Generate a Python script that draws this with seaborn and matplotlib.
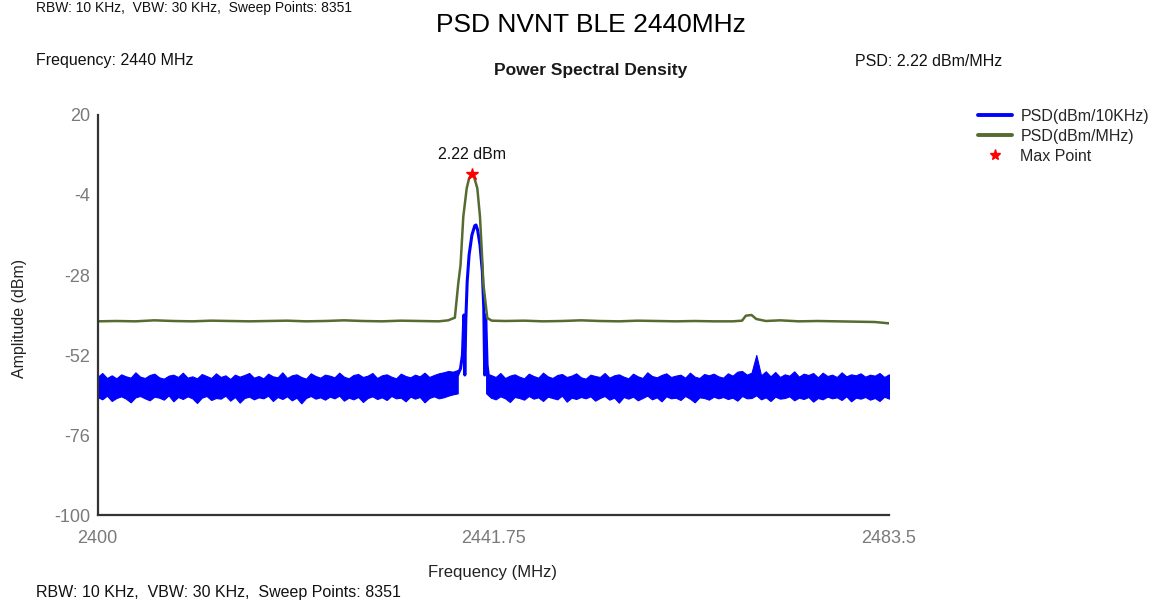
import numpy as np
import pandas as pd
import matplotlib
matplotlib.use("Agg")
import matplotlib.pyplot as plt
from matplotlib.lines import Line2D
import seaborn as sns

# ---------------- data ----------------
x_ticks = [2400, 2441.75, 2483.5]
y_ticks = [20, -4, -28, -52, -76, -100]

max_freq = 2439.48
max_db = 2.22

# PSD (dBm/MHz) trace
green_freq = [2400, 2402, 2404, 2406, 2408, 2410, 2412, 2414, 2416, 2418, 2420,
              2422, 2424, 2426, 2428, 2430, 2432, 2434, 2436, 2437, 2437.7,
              2438.06, 2438.3, 2438.59, 2438.95, 2439.2, 2439.48, 2439.75,
              2440.07, 2440.35, 2440.6, 2440.7, 2441.12, 2441.6, 2443, 2445,
              2447, 2449, 2451, 2453, 2455, 2457, 2459, 2461, 2463, 2465,
              2467, 2468.0, 2468.4, 2469.0, 2469.5, 2470.5, 2472, 2474, 2476,
              2478, 2480, 2482, 2483.5]
green_db = [-41.9, -41.8, -41.9, -41.6, -41.8, -41.9, -41.7, -41.8, -41.9, -41.8,
            -41.7, -41.9, -41.8, -41.6, -41.8, -41.9, -41.7, -41.8, -41.9, -41.6,
            -40.8, -30.5, -25.0, -10.5, -2.0, 1.0, 2.22, 1.2, -2.0, -10.5, -24.0,
            -30.5, -40.9, -41.7, -41.8, -41.7, -41.9, -41.8, -41.6, -41.8, -41.9,
            -41.7, -41.8, -41.9, -41.8, -41.9, -41.9, -41.7, -40.2, -40.0, -41.2,
            -41.8, -41.6, -41.9, -41.8, -41.9, -42.0, -42.1, -42.5]

# PSD (dBm/10KHz) trace: signal core
sig_freq = [2438.0, 2438.3, 2438.5, 2438.65, 2438.75, 2438.85, 2439.0, 2439.2,
            2439.5, 2439.8, 2439.93, 2440.1, 2440.35, 2440.6, 2440.75, 2440.85,
            2440.95, 2441.1, 2441.3]
sig_db = [-58.0, -56.0, -52.0, -40.0, -58.0, -42.0, -30.0, -22.0, -16.0, -13.2,
          -13.0, -14.5, -19.0, -27.0, -38.0, -58.0, -40.0, -55.0, -60.0]

# PSD (dBm/10KHz) noise floor envelope (upper / lower), 0.5 MHz steps
left_start, left_stop = 2400.0, 2438.0
left_hi = [-58.6, -57.4, -58.9, -58.1, -59.0, -57.8, -58.4, -58.8, -57.2, -58.5,
           -58.9, -58.0, -57.6, -58.7, -59.1, -58.2, -57.9, -58.6, -57.3, -58.8,
           -58.4, -59.0, -57.7, -58.3, -58.9, -57.5, -58.6, -58.1, -59.2, -57.9,
           -58.5, -58.0, -57.4, -58.8, -58.3, -59.0, -57.6, -58.4, -58.7, -57.2,
           -58.9, -58.1, -57.8, -58.6, -59.1, -57.5, -58.3, -58.8, -57.9, -58.2,
           -58.7, -57.3, -58.5, -59.0, -58.0, -57.7, -58.6, -58.2, -57.4, -58.9,
           -58.1, -57.8, -58.5, -59.0, -57.6, -58.3, -58.7, -57.9, -58.4, -57.3,
           -58.6, -58.0, -57.5, -57.2, -56.8, -57.0, -56.5]
left_lo = [-64.6, -65.3, -64.2, -65.8, -64.9, -64.4, -65.1, -66.2, -64.7, -64.3,
           -65.0, -65.6, -64.5, -64.8, -65.4, -64.1, -65.9, -64.6, -65.2, -64.4,
           -65.0, -66.4, -64.8, -64.3, -65.5, -64.9, -65.1, -64.2, -65.7, -64.6,
           -66.3, -64.9, -64.5, -65.3, -64.7, -65.0, -64.2, -65.8, -64.6, -65.2,
           -64.4, -65.6, -64.8, -66.5, -64.9, -64.3, -65.1, -64.7, -65.4, -64.5,
           -65.0, -64.2, -65.7, -64.8, -65.3, -64.6, -66.1, -64.9, -64.4, -65.2,
           -64.7, -65.5, -64.3, -65.0, -64.8, -65.9, -64.5, -65.1, -64.6, -66.2,
           -64.9, -64.4, -65.0, -64.7, -64.2, -63.8, -63.5]
right_start, right_stop = 2441.0, 2483.5
right_hi = [-57.5, -58.0, -58.6, -57.4, -58.9, -58.2, -57.8, -58.5, -59.0, -57.6,
            -58.3, -58.8, -57.3, -58.4, -58.9, -58.0, -57.7, -58.6, -58.2, -57.5,
            -58.7, -59.1, -57.9, -58.3, -58.6, -57.4, -58.8, -58.1, -57.8, -58.5,
            -59.0, -57.6, -58.4, -58.9, -57.2, -58.3, -58.7, -58.0, -57.5, -58.6,
            -58.2, -57.9, -58.8, -57.3, -58.5, -58.9, -57.7, -58.1, -57.6, -58.4,
            -58.8, -57.5, -58.2, -57.0, -56.8, -57.9, -57.3, -52.0, -58.1, -56.9,
            -58.4, -57.1, -58.6, -57.8, -58.2, -56.9, -58.5, -57.6, -58.0, -57.4,
            -58.7, -57.3, -58.3, -57.9, -58.6, -57.2, -58.4, -57.8, -58.1, -57.5,
            -58.5, -57.9, -58.2, -57.4, -58.6, -57.8]
right_lo = [-63.5, -64.8, -65.3, -64.4, -65.0, -66.1, -64.6, -64.9, -65.4, -64.3,
            -65.1, -64.7, -65.8, -64.5, -64.9, -65.3, -64.2, -66.0, -64.8, -65.2,
            -64.6, -65.0, -64.4, -65.7, -64.9, -64.3, -65.4, -64.8, -66.3, -64.6,
            -65.1, -64.5, -65.6, -64.9, -64.2, -65.3, -64.7, -65.9, -64.4, -65.0,
            -64.8, -65.5, -64.3, -65.1, -66.2, -64.7, -64.9, -65.4, -64.5, -65.0,
            -64.6, -65.2, -64.8, -65.7, -64.3, -65.0, -64.9, -64.1, -65.3, -64.7,
            -65.8, -64.5, -65.1, -64.9, -64.4, -65.6, -64.8, -65.2, -64.6, -66.0,
            -64.9, -65.3, -64.5, -65.0, -64.7, -65.5, -64.4, -65.9, -64.8, -65.1,
            -64.6, -65.4, -64.9, -65.8, -64.5, -65.1]

# ---------------- style ----------------
sns.set_style("white")
plt.rcParams["font.family"] = ["Liberation Sans", "DejaVu Sans"]

BLUE = "#0000ff"
GREEN = "#556b2f"

fig = plt.figure(figsize=(11.67, 6.06), dpi=100)
ax = fig.add_axes([97.5 / 1167, (606 - 515) / 606, (889 - 97.5) / 1167, 400 / 606])

left_freq = np.linspace(left_start, left_stop, len(left_hi))
right_freq = np.linspace(right_start, right_stop, len(right_hi))

ax.fill_between(left_freq, left_lo, left_hi, color=BLUE, linewidth=0.8, edgecolor=BLUE)
ax.fill_between(right_freq, right_lo, right_hi, color=BLUE, linewidth=0.8, edgecolor=BLUE)

sig_df = pd.DataFrame({"f": sig_freq, "db": sig_db})
sns.lineplot(data=sig_df, x="f", y="db", ax=ax, color=BLUE, linewidth=2.2)

green_df = pd.DataFrame({"f": green_freq, "db": green_db})
sns.lineplot(data=green_df, x="f", y="db", ax=ax, color=GREEN, linewidth=1.8)

ax.plot([max_freq], [max_db], marker="*", color="red", markersize=9, linestyle="none")
ax.annotate(f"{max_db:.2f} dBm", (max_freq, max_db), xytext=(0, 14),
            textcoords="offset points", ha="center", va="center",
            fontsize=11.5, color="#111111")

ax.set_xlim(2400, 2483.5)
ax.set_ylim(-100, 20)
ax.set_xticks(x_ticks)
ax.set_xticklabels(["2400", "2441.75", "2483.5"])
ax.set_yticks(y_ticks)
ax.set_yticklabels([str(v) for v in y_ticks])
ax.tick_params(axis="both", length=0, labelsize=13, labelcolor="#7a7a7a")
ax.tick_params(axis="x", pad=11)
ax.tick_params(axis="y", pad=5)
for s in ["top", "right"]:
    ax.spines[s].set_visible(False)
for s in ["left", "bottom"]:
    ax.spines[s].set_color("#333333")
    ax.spines[s].set_linewidth(1.6)
ax.set_xlabel("")
ax.set_ylabel("")

# ---------------- texts ----------------
fig.text(591 / 1167, 1 - 25 / 606, "PSD NVNT BLE 2440MHz", ha="center", va="center",
         fontsize=19, color="black")
fig.text(591 / 1167, 1 - 70 / 606, "Power Spectral Density", ha="center", va="center",
         fontsize=12.5, fontweight="bold", color="#1a1a1a")
fig.text(36 / 1167, 1 - 61 / 606, "Frequency: 2440 MHz", ha="left", va="center",
         fontsize=11.5, color="#111111")
fig.text(855 / 1167, 1 - 61 / 606, "PSD: 2.22 dBm/MHz", ha="left", va="center",
         fontsize=11.5, color="#111111")
fig.text(20 / 1167, 1 - 318 / 606, "Amplitude (dBm)", ha="center", va="center",
         rotation=90, fontsize=11.5, color="#222222")
fig.text(492 / 1167, 1 - 573 / 606, "Frequency (MHz)", ha="center", va="center",
         fontsize=12, color="#222222")
fig.text(36 / 1167, 1 - 593 / 606, "RBW: 10 KHz,  VBW: 30 KHz,  Sweep Points: 8351",
         ha="left", va="center", fontsize=11.5, color="#111111")
fig.text(36 / 1167, 1 - 1 / 606, "RBW: 10 KHz,  VBW: 30 KHz,  Sweep Points: 8351",
         ha="left", va="top", fontsize=10, color="#111111")

handles = [
    Line2D([], [], color=BLUE, linewidth=2.8),
    Line2D([], [], color=GREEN, linewidth=2.8),
    Line2D([], [], color="red", marker="*", markersize=8, linestyle="none"),
]
labels = ["PSD(dBm/10KHz)", "PSD(dBm/MHz)", "Max Point"]
fig.legend(handles, labels, loc="upper left", bbox_to_anchor=(978 / 1167, 1 - 109 / 606),
           frameon=False, fontsize=11.5, handlelength=2.1, handletextpad=0.55,
           labelspacing=0.3, borderpad=0, borderaxespad=0)

fig.savefig("out.png", dpi=100)
